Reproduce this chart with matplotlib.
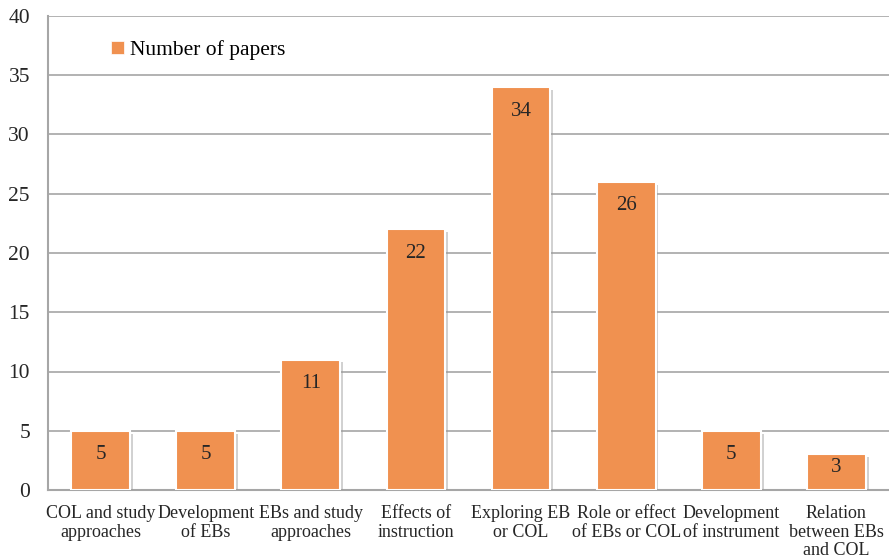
import matplotlib.pyplot as plt
import matplotlib.patheffects as pe
from matplotlib.patches import Patch

categories = [
    "COL and study\napproaches", "Development\nof EBs", "EBs and study\napproaches",
    "Effects of\ninstruction", "Exploring EB\nor COL", "Role or effect\nof EBs or COL",
    "Development\nof instrument", "Relation\nbetween EBs\nand COL",
]
papers = [5, 5, 11, 22, 34, 26, 5, 3]
bar_color = "#F09150"

plt.rcParams['font.family'] = ['Liberation Serif']

fig = plt.figure(figsize=(8.89, 5.6), dpi=100)
ax = fig.add_axes([48/889, 70/560, 841/889, 474/560])

x = list(range(len(papers)))
bars = ax.bar(x, papers, width=0.56, color=bar_color, edgecolor="white", linewidth=1.5, zorder=3)
for b in bars:
    b.set_path_effects([pe.SimplePatchShadow(offset=(2, -2), shadow_rgbFace="#999999", alpha=0.45), pe.Normal()])

ax.set_xlim(-0.5, len(papers) - 0.5)
ax.set_ylim(0, 40)

# label sits ~24px under the bar top, closer for very short bars
px_per_unit = 474 / 40
for xi, v in zip(x, papers):
    off = min(24, v * px_per_unit - 22)
    ax.annotate(str(v), (xi, v), xytext=(0, -off), textcoords="offset pixels",
                ha="center", va="center", fontsize=15, color="#262626", zorder=4)

ax.set_yticks(range(0, 41, 5))
ax.set_xticks(x)
ax.set_xticklabels(categories, fontsize=13, color="#262626", linespacing=1.1)
ax.tick_params(axis="y", labelsize=15.5, colors="#262626", length=0, pad=13)
ax.tick_params(axis="x", length=0, pad=11)
ax.grid(axis="y", color="#A6A6A6", linewidth=1.2, zorder=0)
for s in ["top", "right"]:
    ax.spines[s].set_visible(False)
for s in ["left", "bottom"]:
    ax.spines[s].set_color("#A6A6A6")
    ax.spines[s].set_linewidth(1.5)

handle = Patch(facecolor=bar_color, edgecolor="white", linewidth=0.5)
ax.legend([handle], ["Number of papers"], loc="center left", bbox_to_anchor=(0.062, 0.928),
          frameon=False, fontsize=15.5, borderpad=0, handlelength=0.6, handleheight=0.6,
          handletextpad=0.3)

fig.savefig("out.png", dpi=100)
